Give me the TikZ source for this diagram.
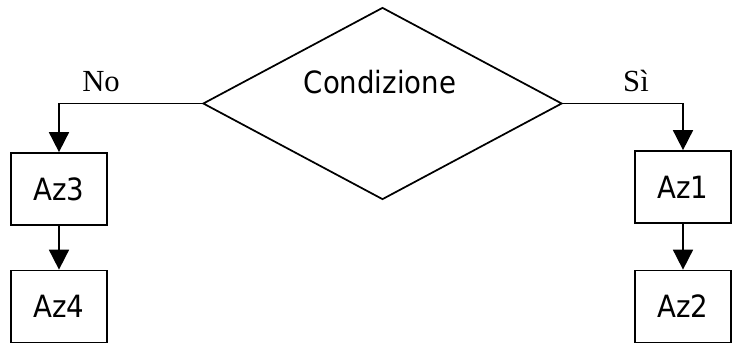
\documentclass[tikz,border=0pt]{standalone}
\usepackage{fontspec}
\setmainfont{Liberation Serif}
\newfontfamily\boxfont{DejaVu Sans Condensed}
\usetikzlibrary{shapes.geometric,arrows.meta}

\begin{document}
\begin{tikzpicture}[x=0.75pt,y=-0.75pt,line width=1.3pt,
  azbox/.style={draw, minimum width=72pt, minimum height=54pt, inner sep=0pt, font=\boxfont\fontsize{23}{27}\selectfont},
  cond/.style={draw, diamond, minimum width=269.25pt, minimum height=144pt, inner sep=0pt},
  flow/.style={-{Triangle[length=15pt,width=15pt]}},
  answer/.style={anchor=base, font=\fontsize{23}{27}\selectfont}]
\useasboundingbox (0,0) rectangle (735,344);
\node[cond] (cond) at (382.5,103.5) {};
\node[anchor=base, font=\boxfont\fontsize{23}{27}\selectfont] (condtxt) at (380,93) {Condizione};
\node[azbox] (az3) at (59,189) {Az3};
\node[azbox] (az4) at (59,306.5) {Az4};
\node[azbox] (az1) at (683,187) {Az1};
\node[azbox] (az2) at (683,306.5) {Az2};
\node[answer] (no) at (101,91) {No};
\node[answer] (si) at (636,91) {Sì};
\draw[flow] (cond.west) -| (az3);
\draw[flow] (cond.east) -| (az1);
\draw[flow] (az3) -- (az4);
\draw[flow] (az1) -- (az2);
\end{tikzpicture}
\end{document}
